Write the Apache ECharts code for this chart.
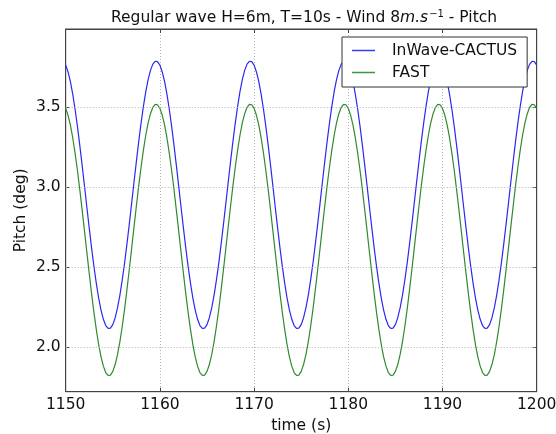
<!DOCTYPE html>
<html>
<head>
<meta charset="utf-8">
<script src="https://cdn.jsdelivr.net/npm/echarts@6/dist/echarts.min.js"></script>
<style>html,body{margin:0;padding:0;background:#fff}#c{width:556px;height:434px}</style>
</head>
<body>
<div id="c"></div>
<script>
const times = [
1150,1150.25,1150.5,1150.75,1151,1151.25,1151.5,1151.75,1152,1152.25,1152.5,1152.75,1153,1153.25,1153.5,1153.75,1154,1154.25,1154.5,1154.75,
1155,1155.25,1155.5,1155.75,1156,1156.25,1156.5,1156.75,1157,1157.25,1157.5,1157.75,1158,1158.25,1158.5,1158.75,1159,1159.25,1159.5,1159.75,
1160,1160.25,1160.5,1160.75,1161,1161.25,1161.5,1161.75,1162,1162.25,1162.5,1162.75,1163,1163.25,1163.5,1163.75,1164,1164.25,1164.5,1164.75,
1165,1165.25,1165.5,1165.75,1166,1166.25,1166.5,1166.75,1167,1167.25,1167.5,1167.75,1168,1168.25,1168.5,1168.75,1169,1169.25,1169.5,1169.75,
1170,1170.25,1170.5,1170.75,1171,1171.25,1171.5,1171.75,1172,1172.25,1172.5,1172.75,1173,1173.25,1173.5,1173.75,1174,1174.25,1174.5,1174.75,
1175,1175.25,1175.5,1175.75,1176,1176.25,1176.5,1176.75,1177,1177.25,1177.5,1177.75,1178,1178.25,1178.5,1178.75,1179,1179.25,1179.5,1179.75,
1180,1180.25,1180.5,1180.75,1181,1181.25,1181.5,1181.75,1182,1182.25,1182.5,1182.75,1183,1183.25,1183.5,1183.75,1184,1184.25,1184.5,1184.75,
1185,1185.25,1185.5,1185.75,1186,1186.25,1186.5,1186.75,1187,1187.25,1187.5,1187.75,1188,1188.25,1188.5,1188.75,1189,1189.25,1189.5,1189.75,
1190,1190.25,1190.5,1190.75,1191,1191.25,1191.5,1191.75,1192,1192.25,1192.5,1192.75,1193,1193.25,1193.5,1193.75,1194,1194.25,1194.5,1194.75,
1195,1195.25,1195.5,1195.75,1196,1196.25,1196.5,1196.75,1197,1197.25,1197.5,1197.75,1198,1198.25,1198.5,1198.75,1199,1199.25,1199.5,1199.75,
1200];
const inwaveCactus = [
3.764,3.721,3.660,3.581,3.486,3.379,3.260,3.135,3.005,2.873,2.744,2.619,2.503,2.398,2.306,2.231,2.173,2.134,2.116,2.118,
2.140,2.183,2.244,2.323,2.418,2.525,2.644,2.769,2.899,3.031,3.160,3.285,3.401,3.506,3.598,3.673,3.731,3.770,3.788,3.786,
3.764,3.721,3.660,3.581,3.486,3.379,3.260,3.135,3.005,2.873,2.744,2.619,2.503,2.398,2.306,2.231,2.173,2.134,2.116,2.118,
2.140,2.183,2.244,2.323,2.418,2.525,2.644,2.769,2.899,3.031,3.160,3.285,3.401,3.506,3.598,3.673,3.731,3.770,3.788,3.786,
3.764,3.721,3.660,3.581,3.486,3.379,3.260,3.135,3.005,2.873,2.744,2.619,2.503,2.398,2.306,2.231,2.173,2.134,2.116,2.118,
2.140,2.183,2.244,2.323,2.418,2.525,2.644,2.769,2.899,3.031,3.160,3.285,3.401,3.506,3.598,3.673,3.731,3.770,3.788,3.786,
3.764,3.721,3.660,3.581,3.486,3.379,3.260,3.135,3.005,2.873,2.744,2.619,2.503,2.398,2.306,2.231,2.173,2.134,2.116,2.118,
2.140,2.183,2.244,2.323,2.418,2.525,2.644,2.769,2.899,3.031,3.160,3.285,3.401,3.506,3.598,3.673,3.731,3.770,3.788,3.786,
3.764,3.721,3.660,3.581,3.486,3.379,3.260,3.135,3.005,2.873,2.744,2.619,2.503,2.398,2.306,2.231,2.173,2.134,2.116,2.118,
2.140,2.183,2.244,2.323,2.418,2.525,2.644,2.769,2.899,3.031,3.160,3.285,3.401,3.506,3.598,3.673,3.731,3.770,3.788,3.786,
3.764];
const fast = [
3.493,3.450,3.388,3.308,3.212,3.103,2.983,2.855,2.723,2.590,2.459,2.332,2.215,2.108,2.015,1.938,1.880,1.840,1.822,1.824,
1.847,1.890,1.952,2.032,2.128,2.237,2.357,2.485,2.617,2.750,2.881,3.008,3.125,3.232,3.325,3.402,3.460,3.500,3.518,3.516,
3.493,3.450,3.388,3.308,3.212,3.103,2.983,2.855,2.723,2.590,2.459,2.332,2.215,2.108,2.015,1.938,1.880,1.840,1.822,1.824,
1.847,1.890,1.952,2.032,2.128,2.237,2.357,2.485,2.617,2.750,2.881,3.008,3.125,3.232,3.325,3.402,3.460,3.500,3.518,3.516,
3.493,3.450,3.388,3.308,3.212,3.103,2.983,2.855,2.723,2.590,2.459,2.332,2.215,2.108,2.015,1.938,1.880,1.840,1.822,1.824,
1.847,1.890,1.952,2.032,2.128,2.237,2.357,2.485,2.617,2.750,2.881,3.008,3.125,3.232,3.325,3.402,3.460,3.500,3.518,3.516,
3.493,3.450,3.388,3.308,3.212,3.103,2.983,2.855,2.723,2.590,2.459,2.332,2.215,2.108,2.015,1.938,1.880,1.840,1.822,1.824,
1.847,1.890,1.952,2.032,2.128,2.237,2.357,2.485,2.617,2.750,2.881,3.008,3.125,3.232,3.325,3.402,3.460,3.500,3.518,3.516,
3.493,3.450,3.388,3.308,3.212,3.103,2.983,2.855,2.723,2.590,2.459,2.332,2.215,2.108,2.015,1.938,1.880,1.840,1.822,1.824,
1.847,1.890,1.952,2.032,2.128,2.237,2.357,2.485,2.617,2.750,2.881,3.008,3.125,3.232,3.325,3.402,3.460,3.500,3.518,3.516,
3.493];
const xTicks = [1150,1160,1170,1180,1190,1200];
const yTicks = [2.0,2.5,3.0,3.5];
const seriesNames = ['InWave-CACTUS','FAST'];

const FONT = 'DejaVu Sans';
const FS = 15.5;
const pair = (xs, ys) => xs.map((x, i) => [x, ys[i]]);
const chart = echarts.init(document.getElementById('c'), null, {renderer: 'canvas'});
const gridStyle = {show: true, lineStyle: {color: '#b0b0b0', type: [1, 2], width: 1}};
chart.setOption({
  animation: false,
  backgroundColor: '#fff',
  title: {
    text: 'Regular wave H=6m, T=10s - Wind 8{i|m.s}{sup|−1} - Pitch',
    left: 299, top: 4, textAlign: 'center',
    textStyle: {
      fontFamily: FONT, fontSize: FS, fontWeight: 'normal', color: '#111',
      rich: {
        i: {fontFamily: FONT, fontStyle: 'italic', fontSize: FS, color: '#111'},
        sup: {fontFamily: FONT, fontSize: 10, color: '#111', verticalAlign: 'top', padding: [0, 0, 8, 1]}
      }
    }
  },
  grid: {left: 65.7, right: 19.3, top: 29, bottom: 42.3, show: true, borderColor: '#444', borderWidth: 1,
    containLabel: false, outerBoundsMode: 'none'},
  legend: {
    orient: 'vertical', left: 342, top: 37,
    padding: [4, 10, 5, 10], itemGap: 3,
    itemWidth: 23, itemHeight: 1.5, icon: 'rect',
    backgroundColor: '#fff', borderColor: '#333', borderWidth: 1, borderRadius: 0,
    textStyle: {fontFamily: FONT, fontSize: FS, color: '#111', padding: [0, 0, 0, 12], lineHeight: 19},
    data: seriesNames
  },
  xAxis: [{
    type: 'value', min: 1150, max: 1200, interval: 10,
    name: 'time (s)', nameLocation: 'middle', nameGap: 24,
    nameTextStyle: {fontFamily: FONT, fontSize: FS, color: '#111'},
    axisLine: {show: true, lineStyle: {color: '#444'}},
    axisTick: {show: true, inside: true, length: 4, lineStyle: {color: '#444'}},
    axisLabel: {fontFamily: FONT, fontSize: FS, color: '#111', margin: 5, customValues: xTicks, formatter: v => String(v)},
    splitLine: gridStyle
  }, {
    type: 'value', min: 1150, max: 1200, interval: 10, position: 'top',
    axisLine: {show: true, lineStyle: {color: '#444'}},
    axisTick: {show: true, inside: true, length: 4, lineStyle: {color: '#444'}},
    axisLabel: {show: false}, splitLine: {show: false}
  }],
  yAxis: [{
    type: 'value', min: 1.72, max: 3.99,
    name: 'Pitch (deg)', nameLocation: 'middle', nameGap: 37, nameMoveOverlap: false,
    nameTextStyle: {fontFamily: FONT, fontSize: FS, color: '#111'},
    axisLine: {show: true, lineStyle: {color: '#444'}},
    axisTick: {show: true, inside: true, length: 4, lineStyle: {color: '#444'}, customValues: yTicks},
    axisLabel: {fontFamily: FONT, fontSize: FS, color: '#111', margin: 5, customValues: yTicks, formatter: v => v.toFixed(1)},
    splitLine: {show: false}
  }, {
    type: 'value', min: 1.72, max: 3.99, position: 'right',
    axisLine: {show: true, lineStyle: {color: '#444'}},
    axisTick: {show: true, inside: true, length: 4, lineStyle: {color: '#444'}, customValues: yTicks},
    axisLabel: {show: false}, splitLine: {show: false}
  }],
  series: [{
    name: seriesNames[0], type: 'line', data: pair(times, inwaveCactus),
    symbol: 'none', smooth: false, lineStyle: {color: '#2a2aee', width: 1.2}, itemStyle: {color: '#3a3aee'},
    markLine: {silent: true, symbol: 'none', label: {show: false},
      lineStyle: {color: '#b0b0b0', type: [1, 2], width: 1},
      data: yTicks.map(v => ({yAxis: v}))}
  }, {
    name: seriesNames[1], type: 'line', data: pair(times, fast),
    symbol: 'none', smooth: false, lineStyle: {color: '#2e8b2e', width: 1.2}, itemStyle: {color: '#3a9a3a'}
  }]
});
</script>
</body>
</html>
